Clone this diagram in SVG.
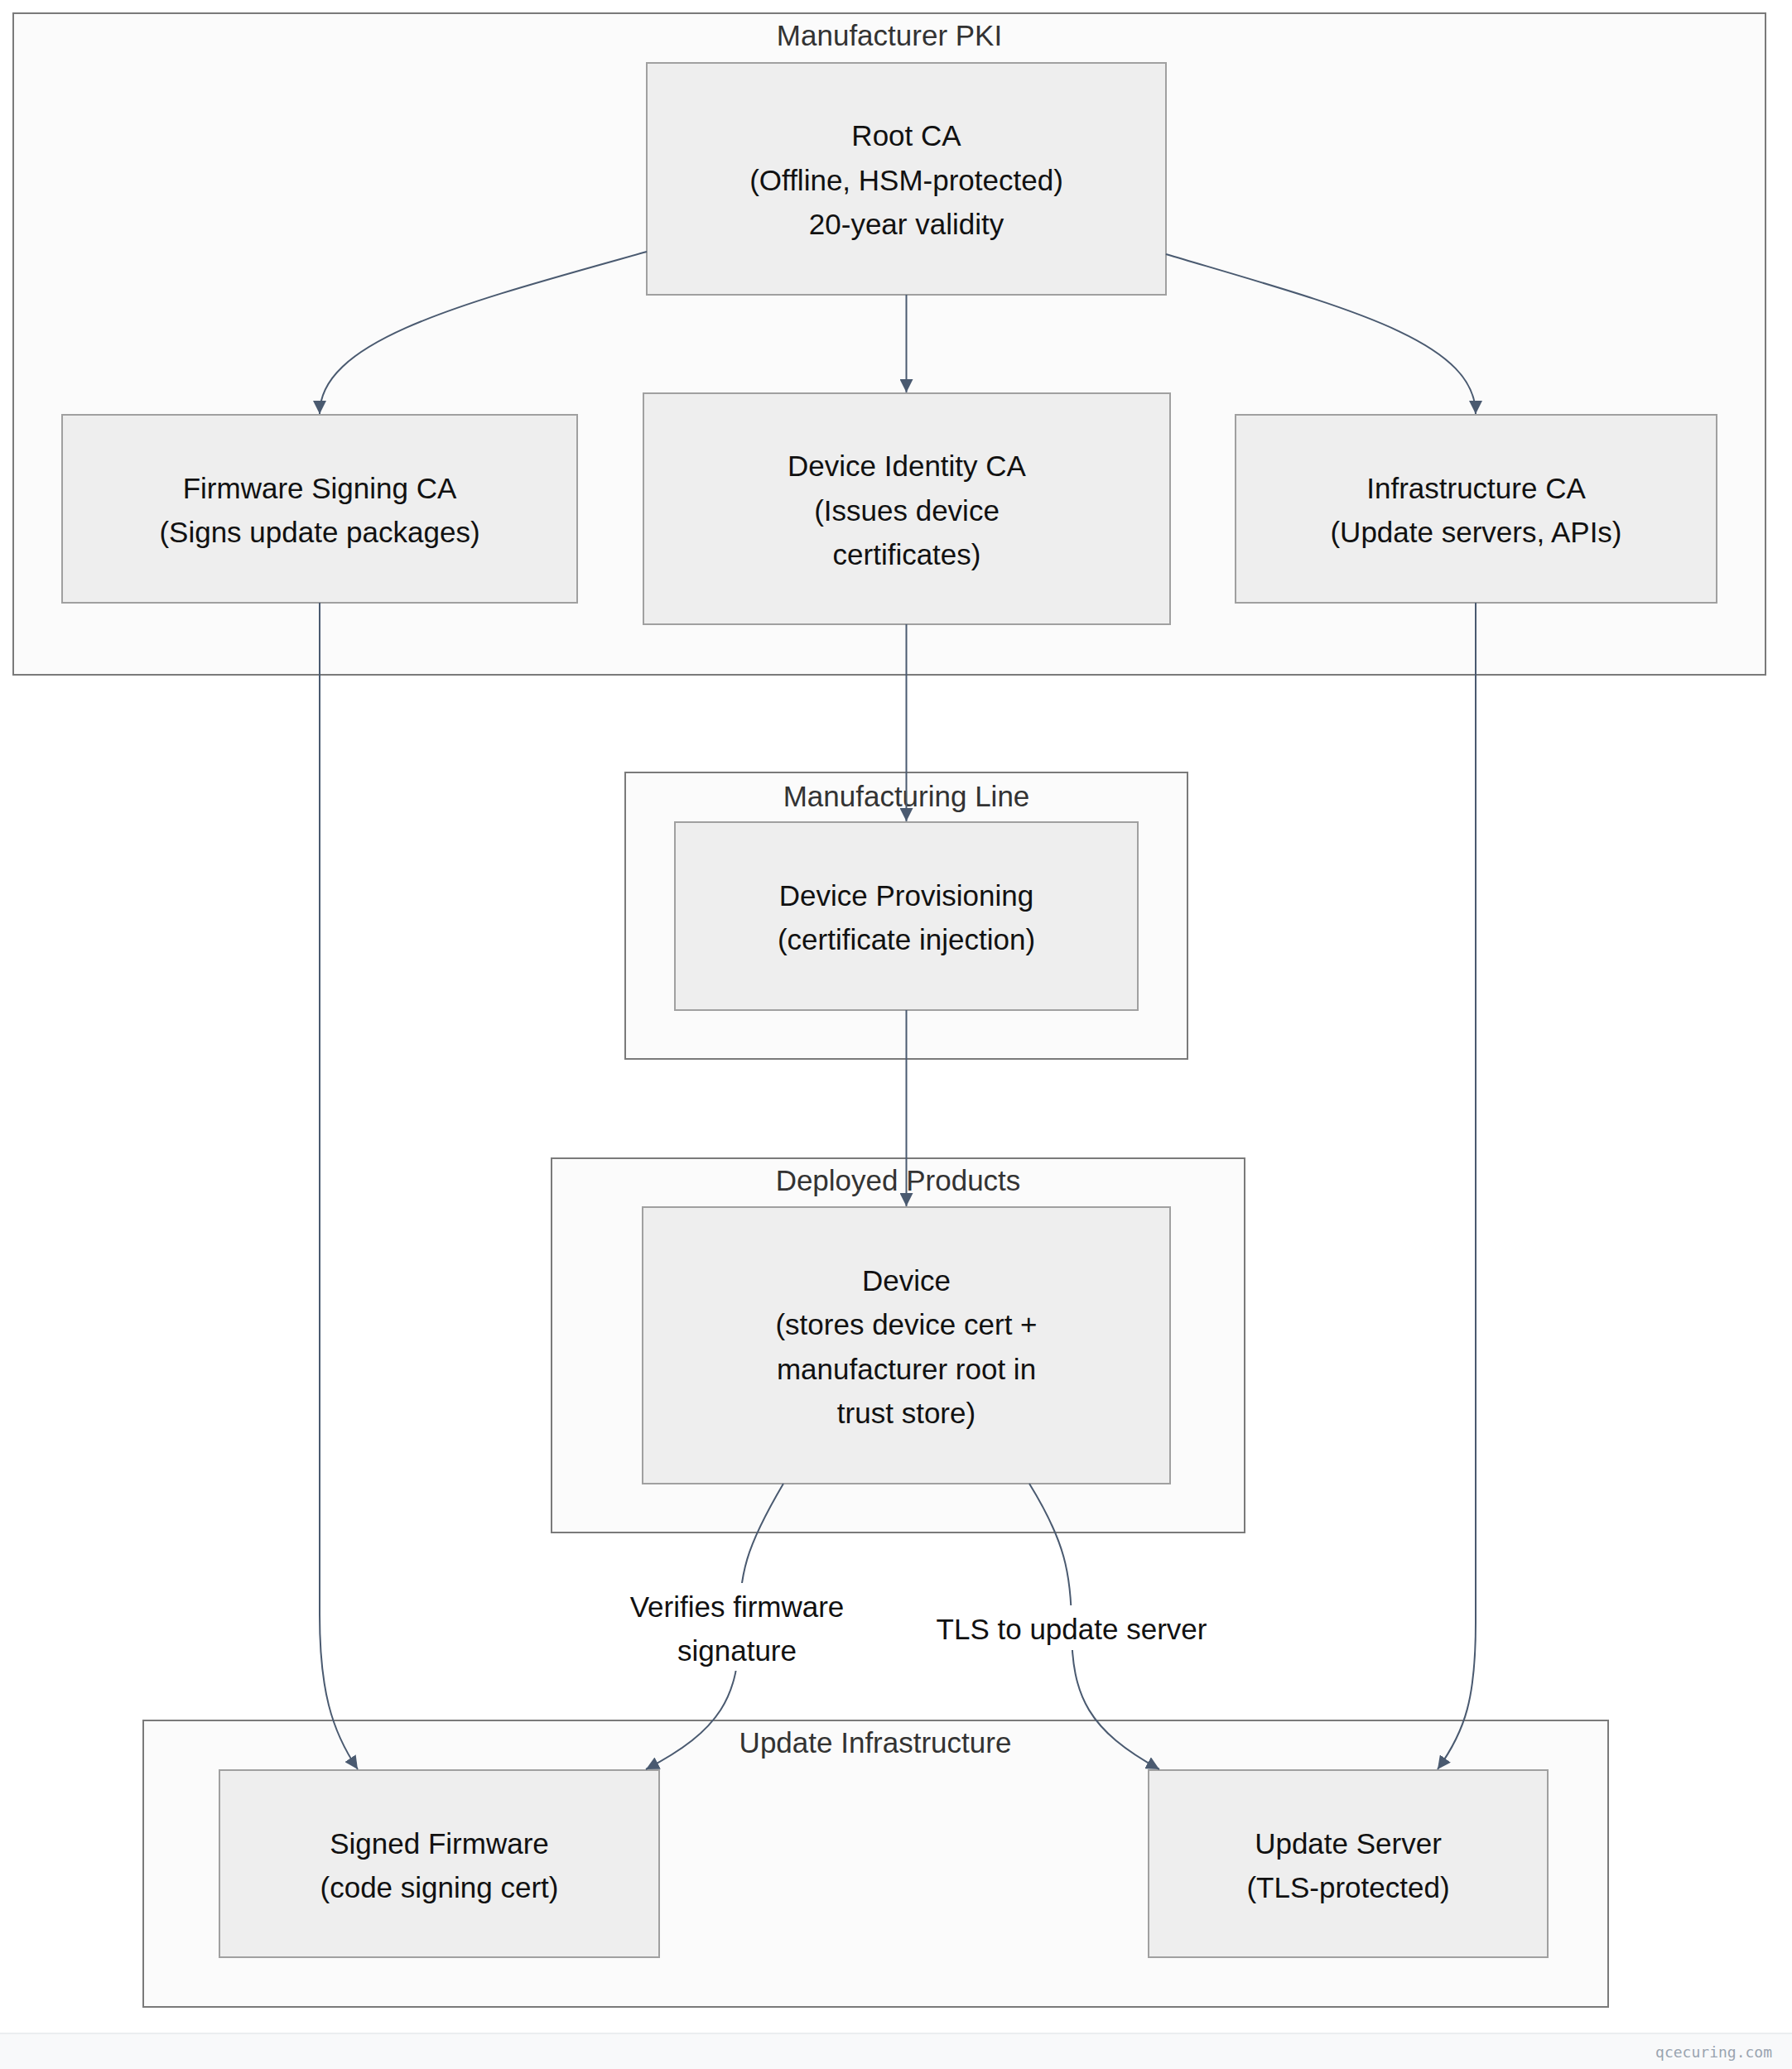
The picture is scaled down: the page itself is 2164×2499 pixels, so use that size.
<svg xmlns="http://www.w3.org/2000/svg" width="2164" height="2499" viewBox="0 0 2164 2499">
<style>
.cluster rect{fill:#fbfbfb;stroke:#7a7a7a;stroke-width:2}
.ctitle{font-family:"Liberation Sans",Arial,sans-serif;font-size:35px;fill:#333333;text-anchor:middle}
.node rect{fill:#eeeeee;stroke:#a0a0a0;stroke-width:2}
.node text,.elabel text{font-family:"Liberation Sans",Arial,sans-serif;font-size:35px;fill:#111111;text-anchor:middle}
.edge{fill:none;stroke:#4a5a70;stroke-width:2}
.lbg{fill:#ffffff}
</style>
<defs>
<marker id="arrow" viewBox="0 0 10 10" refX="10" refY="5" markerUnits="userSpaceOnUse" markerWidth="16" markerHeight="16" orient="auto">
<path d="M0,0 L10,5 L0,10 z" fill="#4a5a70"/>
</marker>
</defs>
<rect x="0" y="0" width="2164" height="2499" fill="#ffffff"/>

<g id="cluster-pki" class="cluster">
<rect x="16" y="16" width="2116" height="799"/>
<text class="ctitle" x="1074" y="55">Manufacturer PKI</text>
</g>
<g id="cluster-mfg" class="cluster">
<rect x="755" y="933" width="679" height="346"/>
<text class="ctitle" x="1094.5" y="974">Manufacturing Line</text>
</g>
<g id="cluster-deployed" class="cluster">
<rect x="666" y="1399" width="837" height="452"/>
<text class="ctitle" x="1084.5" y="1438">Deployed Products</text>
</g>
<g id="cluster-update" class="cluster">
<rect x="173" y="2078" width="1769" height="346"/>
<text class="ctitle" x="1057" y="2117">Update Infrastructure</text>
</g>

<g id="node-root" class="node">
<rect x="781" y="76" width="627" height="280"/>
<text x="1094.5" y="176">Root CA</text>
<text x="1094.5" y="229.5">(Offline, HSM-protected)</text>
<text x="1094.5" y="283">20-year validity</text>
</g>
<g id="node-fwca" class="node">
<rect x="75" y="501" width="622" height="227"/>
<text x="386" y="602">Firmware Signing CA</text>
<text x="386" y="655">(Signs update packages)</text>
</g>
<g id="node-devca" class="node">
<rect x="777" y="475" width="636" height="279"/>
<text x="1095" y="575">Device Identity CA</text>
<text x="1095" y="628.5">(Issues device</text>
<text x="1095" y="682">certificates)</text>
</g>
<g id="node-infraca" class="node">
<rect x="1492" y="501" width="581" height="227"/>
<text x="1782.5" y="602">Infrastructure CA</text>
<text x="1782.5" y="655">(Update servers, APIs)</text>
</g>
<g id="node-prov" class="node">
<rect x="815" y="993" width="559" height="227"/>
<text x="1094.5" y="1094">Device Provisioning</text>
<text x="1094.5" y="1147">(certificate injection)</text>
</g>
<g id="node-device" class="node">
<rect x="776" y="1458" width="637" height="334"/>
<text x="1094.5" y="1559">Device</text>
<text x="1094.5" y="1612.3">(stores device cert +</text>
<text x="1094.5" y="1665.7">manufacturer root in</text>
<text x="1094.5" y="1719">trust store)</text>
</g>
<g id="node-signedfw" class="node">
<rect x="265" y="2138" width="531" height="226"/>
<text x="530.5" y="2238.5">Signed Firmware</text>
<text x="530.5" y="2292">(code signing cert)</text>
</g>
<g id="node-updsrv" class="node">
<rect x="1387" y="2138" width="482" height="226"/>
<text x="1628" y="2238.5">Update Server</text>
<text x="1628" y="2292">(TLS-protected)</text>
</g>

<g id="connectors">
<path class="edge" d="M781,304 C560,366 386,410 386,500" marker-end="url(#arrow)"/>
<path class="edge" d="M1094.5,356 L1094.5,474" marker-end="url(#arrow)"/>
<path class="edge" d="M1408,307 C1620,370 1782,410 1782,500" marker-end="url(#arrow)"/>
<path class="edge" d="M1094.5,754 L1094.5,992" marker-end="url(#arrow)"/>
<path class="edge" d="M1094.5,1220 L1094.5,1457" marker-end="url(#arrow)"/>
<path class="edge" d="M386,728 L386,1950 C386,2040 400,2090 432,2137" marker-end="url(#arrow)"/>
<path class="edge" d="M1782,728 L1782,1960 C1782,2050 1770,2090 1736,2137" marker-end="url(#arrow)"/>
<path class="edge" d="M946,1792 C900,1870 893,1900 893,1965 C893,2050 870,2090 780,2137" marker-end="url(#arrow)"/>
<path class="edge" d="M1243,1792 C1285,1860 1294,1900 1294,1966 C1294,2050 1315,2090 1400,2137" marker-end="url(#arrow)"/>
<g class="elabel">
<rect class="lbg" x="759" y="1912" width="262" height="106"/>
<text x="890" y="1953">Verifies firmware</text>
<text x="890" y="2006">signature</text>
</g>
<g class="elabel">
<rect class="lbg" x="1140" y="1939" width="308" height="54"/>
<text x="1294" y="1979.5">TLS to update server</text>
</g>
</g>

<g id="footer">
<rect x="0" y="2456" width="2164" height="43" fill="#f8f9fa"/>
<line x1="0" y1="2456" x2="2164" y2="2456" stroke="#e6e8eb" stroke-width="1.5"/>
<text x="2140" y="2485" font-family="'DejaVu Sans Mono','Liberation Mono',monospace" font-size="18" fill="#9aa4b0" text-anchor="end">qcecuring.com</text>
</g>
</svg>
